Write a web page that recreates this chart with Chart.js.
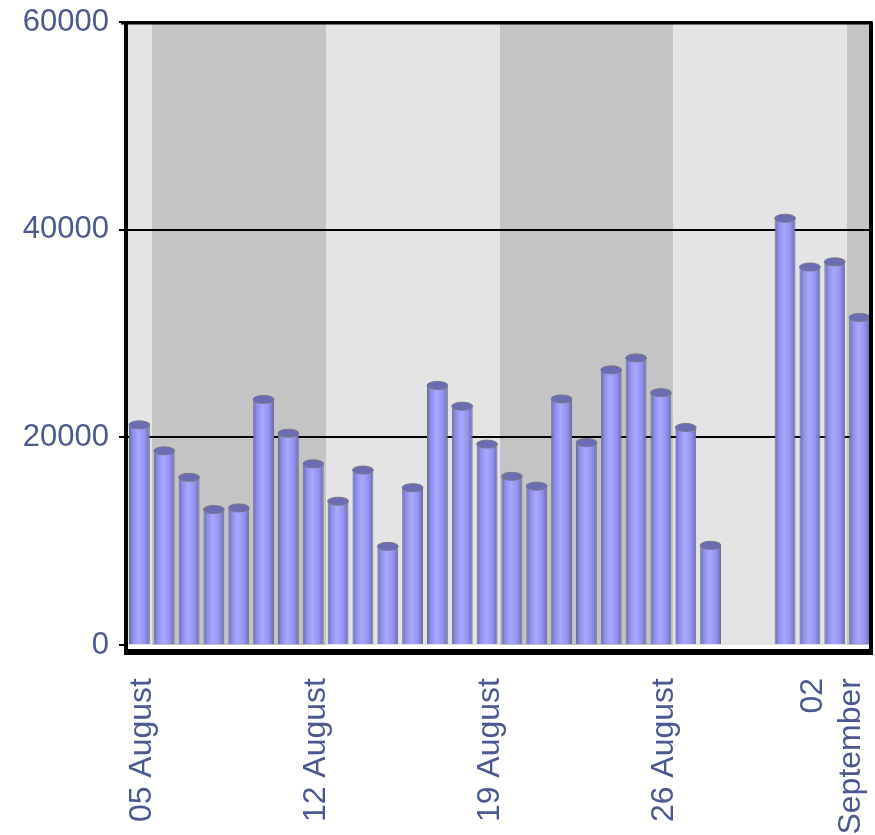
<!DOCTYPE html>
<html>
<head>
<meta charset="utf-8">
<script src="https://cdn.jsdelivr.net/npm/chart.js@4"></script>
<style>
  body { margin: 0; background: #fff; }
</style>
</head>
<body>
<canvas id="myChart" width="875" height="835"></canvas>
<script>
const days = [
    '05 August', '06 August', '07 August', '08 August', '09 August', '10 August', '11 August',
    '12 August', '13 August', '14 August', '15 August', '16 August', '17 August', '18 August',
    '19 August', '20 August', '21 August', '22 August', '23 August', '24 August', '25 August',
    '26 August', '27 August', '28 August', '29 August', '30 August', '31 August',
    '01 September', '02 September', '03 September'
];
const visits = [
    21200, 18700, 16150, 13050, 13200, 23650, 20400,
    17450, 13850, 16850, 9500, 15150, 25000, 23000,
    19350, 16250, 15300, 23700, 19500, 26500, 27650,
    24300, 20950, 9600, 0, 0, 41100,
    36400, 36900, 31550
];
const yTicks = [0, 20000, 40000, 60000];
// which categories carry a label under the axis
const xTickText = {
    0: '05 August',
    7: '12 August',
    14: '19 August',
    21: '26 August',
    27: ['02', 'September']
};

const labelColor = '#4b5990';
const barPct = 0.84;

function barFill(context) {
    const chart = context.chart;
    const x = chart.scales.x;
    if (!x || !x.width || context.type !== 'data') return '#9a9af0';
    const half = x.width / days.length * barPct / 2;
    const c = x.getPixelForValue(context.dataIndex);
    const g = chart.ctx.createLinearGradient(c - half, 0, c + half, 0);
    g.addColorStop(0, '#6464b4');
    g.addColorStop(0.18, '#8e8ee8');
    g.addColorStop(0.45, '#a8a8ff');
    g.addColorStop(0.75, '#9494ee');
    g.addColorStop(1, '#6a6ab8');
    return g;
}

// weekly grey bands behind the bars
const bands = {
    id: 'bands',
    beforeDraw(chart) {
        const {ctx, chartArea: a, scales: {x}} = chart;
        const edge = i => Math.round(x.getPixelForValue(i - 0.5));
        ctx.save();
        ctx.fillStyle = '#fff';
        ctx.fillRect(0, 0, chart.width, chart.height);
        days.forEach((d, i) => {
            const l = edge(i);
            const r = edge(i + 1);
            ctx.fillStyle = Math.floor((i + 6) / 7) % 2 ? '#c4c4c4' : '#e4e4e4';
            ctx.fillRect(l, a.top, r - l, a.bottom - a.top);
        });
        ctx.restore();
    }
};

// cylinder tops and the black frame
const caps = {
    id: 'caps',
    afterDatasetsDraw(chart) {
        const {ctx, chartArea: a} = chart;
        const meta = chart.getDatasetMeta(0);
        ctx.save();
        meta.data.forEach((bar, i) => {
            if (!visits[i]) return;
            const p = bar.getProps(['x', 'y', 'width'], true);
            ctx.beginPath();
            ctx.ellipse(p.x, p.y, p.width / 2, 4, 0, 0, Math.PI * 2);
            ctx.fillStyle = '#6c6cb2';
            ctx.fill();
            ctx.strokeStyle = '#77778a';
            ctx.lineWidth = 1;
            ctx.stroke();
        });

        ctx.strokeStyle = '#000';
        ctx.lineCap = 'butt';
        ctx.lineWidth = 3;
        ctx.beginPath();
        ctx.moveTo(a.left - 6, a.top + 1);
        ctx.lineTo(a.right + 1, a.top + 1);
        ctx.stroke();
        ctx.lineWidth = 4;
        ctx.beginPath();
        ctx.moveTo(a.right - 1, a.top);
        ctx.lineTo(a.right - 1, a.bottom + 10);
        ctx.moveTo(a.left - 1, a.top);
        ctx.lineTo(a.left - 1, a.bottom + 10);
        ctx.stroke();
        ctx.lineWidth = 6;
        ctx.beginPath();
        ctx.moveTo(a.left - 3, a.bottom + 7);
        ctx.lineTo(a.right + 1, a.bottom + 7);
        ctx.stroke();
        ctx.restore();
    }
};

const data = {
    labels: days,
    datasets: [{
        label: 'Visits',
        data: visits,
        backgroundColor: barFill,
        borderColor: '#72727e',
        borderWidth: {left: 1, right: 1, top: 0, bottom: 0},
        borderSkipped: 'start',
        categoryPercentage: 1,
        barPercentage: barPct
    }]
};

const config = {
    type: 'bar',
    data: data,
    plugins: [bands, caps],
    options: {
        responsive: false,
        animation: false,
        devicePixelRatio: 1,
        layout: {
            padding: {top: 22, right: 3, left: 0, bottom: 0}
        },
        plugins: {
            legend: {display: false},
            tooltip: {enabled: false}
        },
        scales: {
            x: {
                offset: true,
                grid: {display: false, drawTicks: true, tickLength: 31},
                border: {display: false},
                ticks: {
                    autoSkip: false,
                    minRotation: 90,
                    maxRotation: 90,
                    padding: 2,
                    labelOffset: 3,
                    color: labelColor,
                    font: {family: 'Liberation Sans', size: 32, lineHeight: 1.2},
                    callback: (v, i) => xTickText[i] === undefined ? null : xTickText[i]
                },
                afterFit: s => {
                    s.height = 190;
                    s.paddingLeft = 0;
                    s.paddingRight = 0;
                }
            },
            y: {
                min: 0,
                max: 60000,
                afterBuildTicks: s => { s.ticks = yTicks.map(v => ({value: v})); },
                grid: {
                    color: c => (c.tick && c.tick.value === 0) ? 'rgba(0,0,0,0)' : '#000',
                    tickColor: '#000',
                    lineWidth: 2,
                    tickLength: 8
                },
                border: {display: false},
                ticks: {
                    padding: 10,
                    color: labelColor,
                    font: {family: 'Liberation Sans', size: 31, lineHeight: 0.7},
                    callback: v => String(v)
                },
                afterFit: s => { s.width = 127; }
            }
        }
    }
};

Chart.defaults.color = labelColor;

const ctx = document.getElementById('myChart');
const chart = new Chart(ctx, config);
</script>
</body>
</html>
